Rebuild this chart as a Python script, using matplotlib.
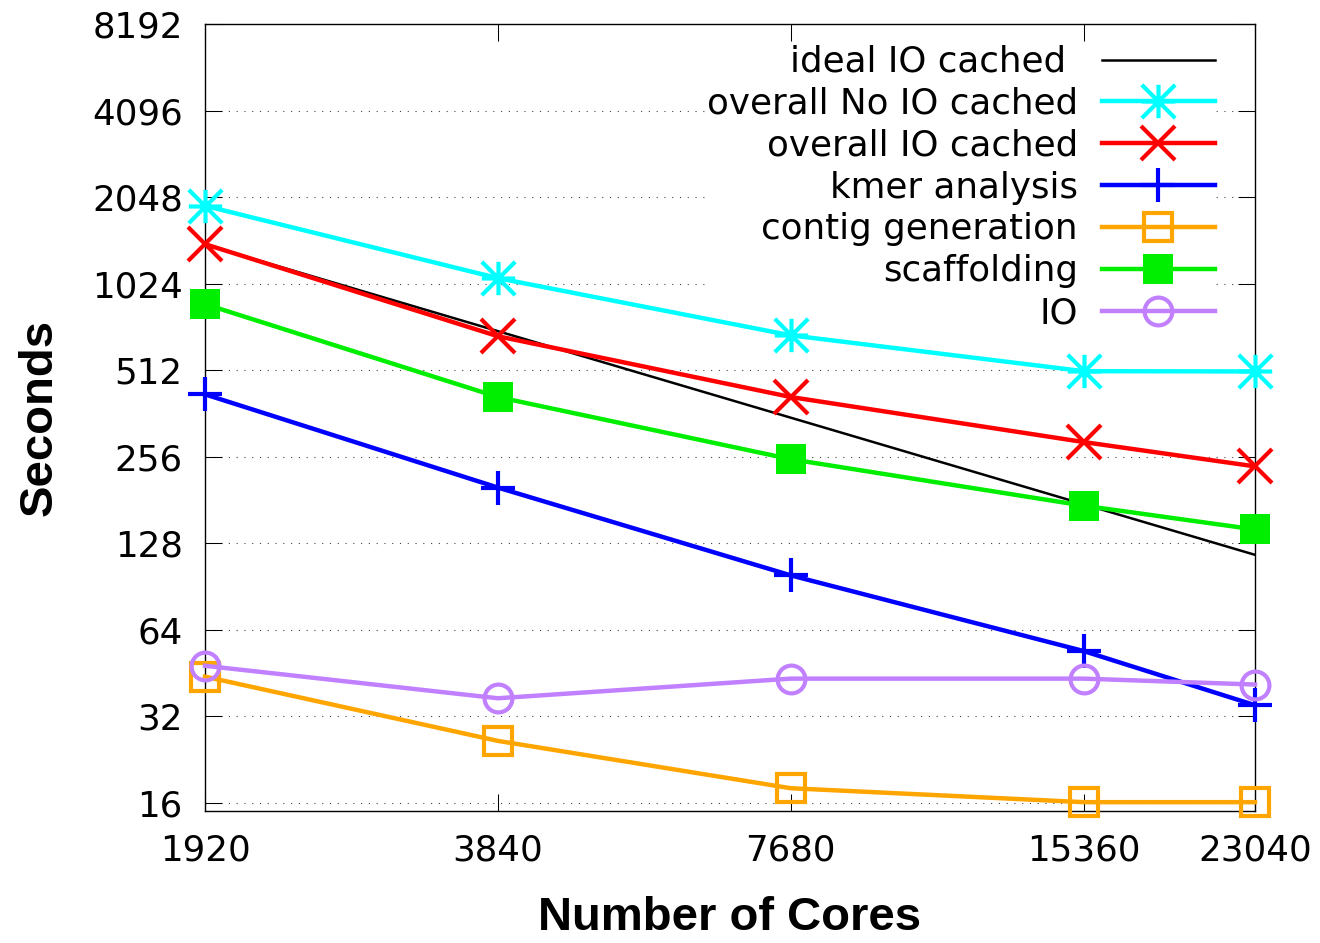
import matplotlib
matplotlib.use("Agg")
import matplotlib.pyplot as plt
from matplotlib.path import Path
import numpy as np

cores = [1920, 3840, 7680, 15360, 23040]
x_labels = ["1920", "3840", "7680", "15360", "23040"]
ideal_io_cached = [1400, 700, 350, 175, 116.7]
overall_no_io_cached = [1910, 1070, 677, 508, 507]
overall_io_cached = [1405, 672, 413, 288, 237]
kmer_analysis = [422, 200, 99, 54, 35]
contig_generation = [44, 26.3, 18, 16.1, 16.1]
scaffolding = [869, 413, 251, 173, 143]
io = [48, 37, 43.3, 43.3, 41.3]
y_ticks = [16, 32, 64, 128, 256, 512, 1024, 2048, 4096, 8192]

plt.rcParams['font.family'] = ['DejaVu Sans']
fig = plt.figure(figsize=(13.2, 9.43), dpi=100)
ax = fig.add_axes([205/1320, 1 - 811/943, (1255-205)/1320, (811-24)/943])

ax.set_xscale('log', base=2)
ax.set_yscale('log', base=2)

# gnuplot-style asterisk marker (plus + cross)
ast = Path([(-1, 0), (1, 0), (0, -1), (0, 1), (-1, -1), (1, 1), (-1, 1), (1, -1)],
           [Path.MOVETO, Path.LINETO] * 4)

lw = 3.2
ms = 24
ax.plot(cores, ideal_io_cached, color='black', lw=1.8, label='ideal IO cached ', zorder=3)
ax.plot(cores, overall_no_io_cached, color='#00ffff', lw=lw, marker=ast, ms=ms, mew=3,
        label='overall No IO cached', clip_on=False, zorder=4)
ax.plot(cores, overall_io_cached, color='#ff0000', lw=lw, marker='x', ms=ms, mew=3,
        label='overall IO cached', clip_on=False, zorder=4)
ax.plot(cores, kmer_analysis, color='#0000ff', lw=lw, marker='+', ms=ms, mew=3,
        label='kmer analysis', clip_on=False, zorder=4)
ax.plot(cores, contig_generation, color='#ffa500', lw=lw, marker='s', ms=19.5, mew=3,
        mfc='none', label='contig generation', clip_on=False, zorder=4)
ax.plot(cores, scaffolding, color='#00ee00', lw=lw, marker='s', ms=22, mew=0,
        mfc='#00ee00', label='scaffolding', clip_on=False, zorder=4)
ax.plot(cores, io, color='#c080ff', lw=lw, marker='o', ms=20, mew=3, mfc='none',
        label='IO', clip_on=False, zorder=4)

ax.set_xlim(1920, 23040)
ax.set_ylim(15, 8192)
ax.set_xticks(cores)
ax.set_xticklabels(x_labels)
ax.set_yticks(y_ticks)
ax.set_yticklabels([str(v) for v in y_ticks])
ax.minorticks_off()
ax.tick_params(direction='in', length=12, width=0.75, labelsize=25.7,
               top=True, right=True, color='black')
ax.tick_params(axis='x', pad=16)
ax.tick_params(axis='y', pad=16)
ax.yaxis.grid(True, linestyle=(0, (1, 6)), color='#444444', lw=0.8)
ax.set_axisbelow(True)
for s in ax.spines.values():
    s.set_linewidth(1.0)

ax.set_ylabel('Seconds', fontsize=34, fontweight='bold', family='Liberation Sans', labelpad=22)
ax.set_xlabel('Number of Cores', fontsize=34, fontweight='bold', family='Liberation Sans', labelpad=21)

leg = ax.legend(loc='upper right', bbox_to_anchor=((1215-205)/1050, (811-45)/787),
                markerfirst=False, fontsize=25.7, handlelength=3.17, handletextpad=0.67,
                labelspacing=0.22, borderpad=0.0, borderaxespad=0.0,
                frameon=True, framealpha=1.0, facecolor='white', edgecolor='none',
                fancybox=False)
leg.set_zorder(2.5)

fig.savefig('out.png', dpi=100)
